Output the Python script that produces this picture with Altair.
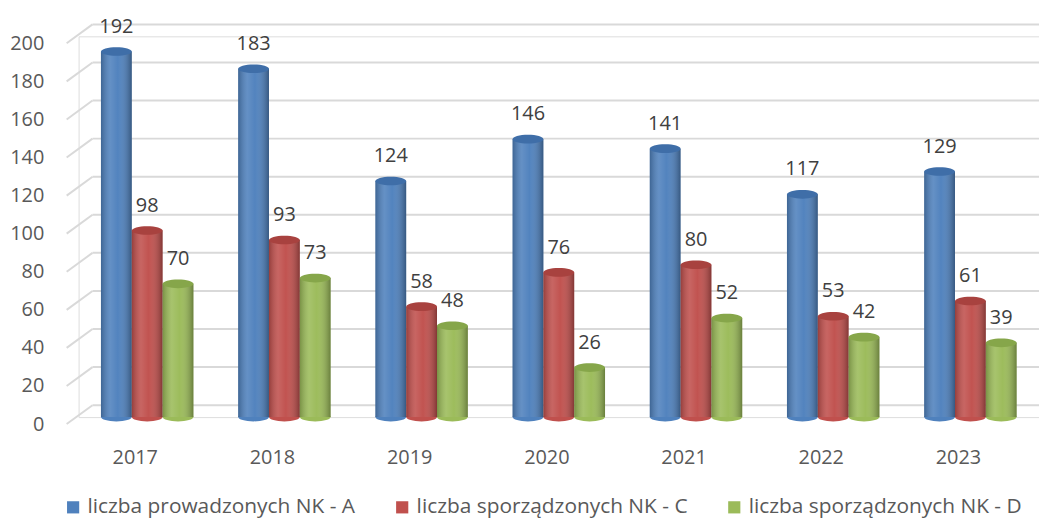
import altair as alt
import pandas as pd

years = ["2017", "2018", "2019", "2020", "2021", "2022", "2023"]
series_names = ["liczba prowadzonych NK - A", "liczba sporządzonych NK - C", "liczba sporządzonych NK - D"]
vals_a = [192, 183, 124, 146, 141, 117, 129]
vals_c = [98, 93, 58, 76, 80, 53, 61]
vals_d = [70, 73, 48, 26, 52, 42, 39]
colors = ["#4f81bd", "#c0504d", "#9bbb59"]
cap_colors = ["#3f6ea8", "#a8423f", "#86a64a"]
grid_values = [0, 20, 40, 60, 80, 100, 120, 140, 160, 180, 200]

rows = []
for s_i, (name, vals) in enumerate(zip(series_names, [vals_a, vals_c, vals_d])):
    for y, v in zip(years, vals):
        rows.append({"year": y, "series": name, "value": v,
                     "cap": cap_colors[s_i], "base": colors[s_i]})
df = pd.DataFrame(rows)
grid_df = pd.DataFrame({"value": grid_values})

W, H = 966, 383
FONT = "Open Sans"

yscale = alt.Scale(domain=[0, 200], nice=False)
xscale = alt.Scale(domain=years, paddingInner=0.326, paddingOuter=0.163)
xoff_scale = alt.Scale(domain=series_names, paddingInner=0, paddingOuter=0)

x_axis = alt.Axis(title=None, domain=False, ticks=False, labelAngle=0, labelPadding=31,
                  labelOffset=-12, labelFontSize=20, labelColor="#595959", labelFont=FONT)
y_axis = alt.Axis(title=None, values=grid_values, domain=False, ticks=False, grid=False,
                  labelPadding=35, labelOffset=7, labelFontSize=20, labelColor="#595959", labelFont=FONT)

x_enc = alt.X("year:N", scale=xscale, axis=x_axis)
y_enc = alt.Y("value:Q", scale=yscale, axis=y_axis)
xo = alt.XOffset("series:N", scale=xoff_scale, sort=series_names)

grid_back = alt.Chart(grid_df).mark_rule(color="#d9d9d9", strokeWidth=2, yOffset=-12, y2Offset=-12).encode(
    y=y_enc, y2="value:Q",
    x=alt.value(14), x2=alt.value(W + 2),
)
grid_diag = alt.Chart(grid_df).mark_rule(color="#d9d9d9", strokeWidth=2, yOffset=7, y2Offset=-12).encode(
    y=y_enc, y2="value:Q",
    x=alt.value(-12), x2=alt.value(14),
)

ellipse = "M-1,0 A1,0.28 0 1,0 1,0 A1,0.28 0 1,0 -1,0 Z"

base_caps = alt.Chart(df).mark_point(
    shape=ellipse, size=961, filled=True, opacity=1, strokeWidth=0
).encode(x=x_enc, xOffset=xo, y=alt.YDatum(0, scale=yscale, axis=y_axis),
         color=alt.Color("base:N", scale=None))

bars = alt.Chart(df).mark_bar(opacity=1).encode(
    x=x_enc, xOffset=xo, y=y_enc,
    color=alt.Color("series:N", sort=series_names,
                    scale=alt.Scale(domain=series_names, range=colors),
                    legend=alt.Legend(title=None, orient="none", direction="horizontal",
                                      legendX=-16, legendY=463, symbolType="square", symbolSize=150,
                                      symbolStrokeWidth=0, labelFontSize=21, labelFont=FONT,
                                      labelColor="#595959", columnPadding=36, labelOffset=4,
                                      labelLimit=400)),
)

shade = alt.Chart(df).mark_bar(color={
    "gradient": "linear", "x1": 0, "x2": 1, "y1": 0, "y2": 0,
    "stops": [
        {"offset": 0, "color": "rgba(0,0,0,0.22)"},
        {"offset": 0.3, "color": "rgba(255,255,255,0.12)"},
        {"offset": 0.55, "color": "rgba(255,255,255,0.02)"},
        {"offset": 1, "color": "rgba(0,0,0,0.32)"},
    ]}).encode(x=x_enc, xOffset=xo, y=y_enc)

top_caps = alt.Chart(df).mark_point(
    shape=ellipse, size=961, filled=True, opacity=1, strokeWidth=0
).encode(x=x_enc, xOffset=xo, y=y_enc, color=alt.Color("cap:N", scale=None))

labels = alt.Chart(df).mark_text(dy=-25, fontSize=20, font=FONT, color="#404040", baseline="middle").encode(
    x=x_enc, xOffset=xo, y=y_enc, text="value:Q")

chart = alt.layer(grid_back, grid_diag, base_caps, bars, shade, top_caps, labels).properties(
    width=W, height=H,
    autosize=alt.AutoSizeParams(type="none"),
    padding={"left": 71, "top": 27, "right": 0, "bottom": 102},
).configure_view(stroke=None).configure(background="white")

chart.save("out.html", embed_options={"renderer": "svg", "actions": False})
